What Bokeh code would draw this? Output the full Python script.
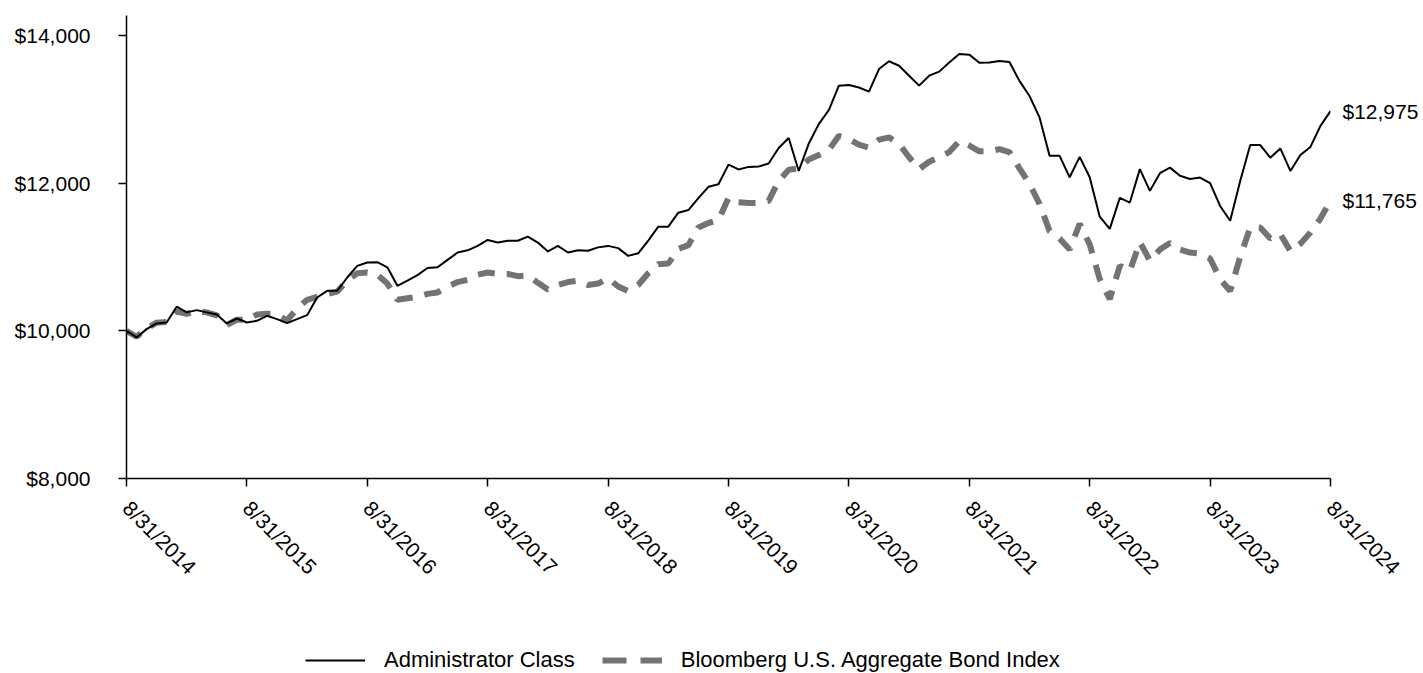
import math
from bokeh.plotting import figure
from bokeh.layouts import column
from bokeh.models import (Range1d, FixedTicker, Legend, LegendItem, NumeralTickFormatter,
                          LinearAxis)
from bokeh.embed import file_html
from bokeh.resources import INLINE

# ---- data (monthly, 8/31/2014 .. 8/31/2024) ----
months = list(range(121))
admin_class = [
    10000, 9910, 10023, 10100, 10113, 10327, 10250, 10280, 10250, 10220, 10100, 10167, 10113,
    10135, 10203, 10158, 10104, 10158, 10212, 10451, 10541, 10541, 10722, 10880, 10925,
    10930, 10860, 10610, 10680, 10755, 10850, 10860, 10960, 11060, 11090, 11150, 11230,
    11195, 11220, 11220, 11275, 11195, 11075, 11150, 11060, 11090, 11085, 11130, 11150,
    11120, 11015, 11050, 11220, 11410, 11410, 11600, 11635, 11797, 11950, 11985, 12250,
    12185, 12220, 12225, 12265, 12475, 12610, 12165, 12535, 12800, 12990, 13320, 13330,
    13295, 13240, 13545, 13650, 13590, 13455, 13320, 13455, 13510, 13635, 13750, 13740,
    13630, 13635, 13655, 13640, 13385, 13180, 12890, 12370, 12370, 12080, 12355, 12080,
    11545, 11380, 11800, 11737, 12190, 11895, 12135, 12210, 12100, 12055, 12075, 12000,
    11690, 11490, 12030, 12515, 12515, 12345, 12470, 12165, 12380, 12490, 12775, 12975,
]
bond_index = [
    10000, 9920, 10030, 10110, 10120, 10260, 10230, 10270, 10250, 10210, 10080, 10150, 10150,
    10220, 10230, 10220, 10140, 10300, 10420, 10460, 10500, 10530, 10680, 10780, 10790,
    10760, 10640, 10420, 10440, 10460, 10500, 10520, 10600, 10660, 10690, 10760, 10790,
    10770, 10770, 10740, 10750, 10650, 10560, 10620, 10660, 10680, 10620, 10640, 10710,
    10600, 10540, 10620, 10780, 10900, 10910, 11110, 11160, 11400, 11460, 11500, 11800,
    11740, 11730, 11730, 11760, 12030, 12180, 12200, 12320, 12380, 12450, 12640, 12600,
    12520, 12480, 12590, 12620, 12530, 12350, 12190, 12290, 12350, 12420, 12570, 12510,
    12430, 12430, 12460, 12420, 12200, 11990, 11720, 11350, 11250, 11100, 11450, 11170,
    10700, 10430, 10880, 10810, 11200, 10950, 11100, 11190, 11100, 11060, 11045, 10980,
    10700, 10540, 11000, 11400, 11400, 11250, 11310, 11080, 11180, 11330, 11520, 11765,
]
x_tick_months = [0, 12, 24, 36, 48, 60, 72, 84, 96, 108, 120]
x_tick_labels = ["8/31/2014", "8/31/2015", "8/31/2016", "8/31/2017", "8/31/2018", "8/31/2019",
                 "8/31/2020", "8/31/2021", "8/31/2022", "8/31/2023", "8/31/2024"]
y_ticks = [8000, 10000, 12000, 14000]
series_names = ["Administrator Class", "Bloomberg U.S. Aggregate Bond Index"]
end_labels = ["$12,975", "$11,765"]

FONT = "Liberation Sans"
FS = "21px"
FUND_STYLE = dict(line_color="black", line_width=2)
INDEX_STYLE = dict(line_color="#737373", line_width=6, line_dash="17 12")

p = figure(width=1423, height=600, output_backend="svg", toolbar_location=None,
           x_range=Range1d(0, 120), y_range=Range1d(8000, 14270),
           min_border_left=126, min_border_right=93, min_border_top=15, min_border_bottom=122)
p.outline_line_color = None
p.xgrid.visible = False
p.ygrid.visible = False

p.line(months, bond_index, **INDEX_STYLE)
p.line(months, admin_class, **FUND_STYLE)

for ax in (p.xaxis[0], p.yaxis[0]):
    ax.axis_line_color = "black"
    ax.axis_line_width = 1.5
    ax.major_tick_line_color = "black"
    ax.major_tick_line_width = 1.5
    ax.major_tick_out = 8
    ax.major_tick_in = 0
    ax.minor_tick_line_color = None
    ax.major_label_text_font = FONT
    ax.major_label_text_font_size = FS
    ax.major_label_text_color = "black"

p.xaxis.ticker = FixedTicker(ticks=x_tick_months)
p.xaxis.major_label_overrides = {m: l for m, l in zip(x_tick_months, x_tick_labels)}
p.xaxis.major_label_orientation = -math.pi / 4
p.xaxis.major_label_standoff = 18

p.yaxis.ticker = FixedTicker(ticks=y_ticks)
p.yaxis.formatter = NumeralTickFormatter(format="$0,0")
p.yaxis.major_label_standoff = 28

# end-value labels via a bare right axis
end_vals = [admin_class[-1], bond_index[-1]]
right_ax = LinearAxis(ticker=FixedTicker(ticks=end_vals),
                      major_label_overrides={v: t for v, t in zip(end_vals, end_labels)},
                      axis_line_color=None, major_tick_line_color=None, minor_tick_line_color=None,
                      major_tick_in=0, major_tick_out=0, major_label_standoff=12,
                      major_label_text_font=FONT, major_label_text_font_size=FS,
                      major_label_text_color="black")
p.add_layout(right_ax, "right")

# legend figure (its lines lie outside its own view; only the legend shows)
q = figure(width=1423, height=73, output_backend="svg", toolbar_location=None,
           x_axis_type=None, y_axis_type=None, min_border=0,
           x_range=Range1d(0, 1), y_range=Range1d(0, 1))
q.outline_line_color = None
q.xgrid.visible = False
q.ygrid.visible = False
lf = q.line(months, admin_class, **FUND_STYLE)
li = q.line(months, bond_index, line_color=INDEX_STYLE["line_color"],
            line_width=INDEX_STYLE["line_width"], line_dash="24 14")
legend = Legend(items=[LegendItem(label=series_names[0], renderers=[lf]),
                       LegendItem(label=series_names[1], renderers=[li])],
                orientation="horizontal", location=(179, 0),
                glyph_width=60, glyph_height=20, label_standoff=19, spacing=27,
                padding=0, margin=0, border_line_color=None, background_fill_alpha=0,
                label_text_font=FONT, label_text_font_size="22px", label_text_color="black")
q.add_layout(legend, "center")

layout = column(p, q, spacing=0)
open("out.html", "w").write(file_html(layout, INLINE))
